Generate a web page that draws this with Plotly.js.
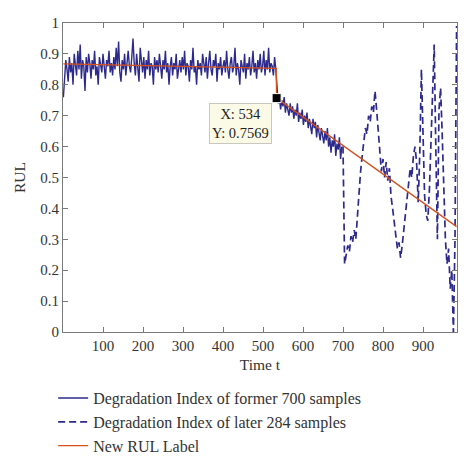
<!DOCTYPE html>
<html>
<head>
<meta charset="utf-8">
<script src="https://cdn.plot.ly/plotly-3.0.1.min.js"></script>
<style>html,body{margin:0;padding:0;background:#fff;}#chart{width:474px;height:469px;}</style>
</head>
<body>
<div id="chart"></div>
<script>
// Degradation index, former 700 samples (every 3rd sample, starting at t=1)
const formerStart = 1;
const formerStep = 3;
const formerValues = [
0.76,0.83,0.88,0.85,0.81,0.89,0.84,0.87,0.80,0.90,0.86,0.83,0.91,0.85,0.93,0.82,0.88,0.86,0.78,0.89,
0.84,0.90,0.87,0.82,0.88,0.85,0.91,0.83,0.86,0.80,0.89,0.87,0.84,0.90,0.85,0.82,0.88,0.86,0.91,0.84,
0.87,0.83,0.89,0.85,0.92,0.86,0.94,0.84,0.81,0.88,0.85,0.90,0.83,0.87,0.91,0.86,0.84,0.89,0.95,0.87,
0.83,0.90,0.86,0.81,0.92,0.87,0.84,0.89,0.82,0.88,0.85,0.91,0.83,0.87,0.86,0.80,0.89,0.85,0.88,0.84,
0.90,0.86,0.82,0.88,0.85,0.91,0.84,0.87,0.80,0.86,0.89,0.83,0.87,0.85,0.90,0.82,0.86,0.88,0.84,0.89,
0.85,0.91,0.83,0.87,0.86,0.81,0.88,0.85,0.92,0.84,0.86,0.80,0.88,0.85,0.87,0.83,0.90,0.86,0.84,0.89,
0.82,0.87,0.91,0.85,0.83,0.88,0.86,0.90,0.81,0.87,0.85,0.89,0.83,0.86,0.88,0.84,0.91,0.85,0.82,0.87,
0.89,0.84,0.86,0.92,0.83,0.87,0.85,0.80,0.88,0.86,0.84,0.90,0.82,0.87,0.85,0.89,0.83,0.86,0.91,0.84,
0.87,0.82,0.88,0.85,0.90,0.84,0.86,0.91,0.83,0.88,0.85,0.92,0.84,0.87,0.86,0.83,0.89,0.85,
0.77,0.74,0.76,0.72,0.75,0.73,0.76,0.71,0.74,0.72,0.70,0.74,0.71,0.73,0.69,0.72,0.70,0.74,0.68,0.71,
0.69,0.72,0.67,0.70,0.68,0.71,0.66,0.69,0.67,0.64,0.69,0.66,0.68,0.63,0.67,0.65,0.62,0.66,0.64,0.61,
0.65,0.62,0.66,0.60,0.63,0.58,0.62,0.60,0.64,0.57,0.61,0.59,0.63,0.56,0.60
];
// Degradation index, later 284 samples (every 4th sample, starting at t=700)
const laterStart = 700;
const laterStep = 4;
const laterValues = [
0.60,0.22,0.25,0.28,0.26,0.31,0.29,0.33,0.30,0.38,0.45,0.52,0.57,0.62,0.66,0.64,0.70,0.68,0.73,0.71,
0.78,0.72,0.66,0.58,0.52,0.56,0.50,0.55,0.49,0.53,0.44,0.40,0.35,0.30,0.27,0.29,0.24,0.28,0.33,0.39,
0.45,0.48,0.53,0.50,0.57,0.60,0.55,0.42,0.58,0.85,0.62,0.44,0.38,0.36,0.46,0.62,0.80,0.93,0.60,0.30,
0.72,0.79,0.64,0.45,0.30,0.22,0.27,0.14,0.20,0.00,0.30,0.99
];
// New RUL label (piecewise linear)
const rulT = [1, 533, 534, 984];
const rulY = [0.868, 0.853, 0.757, 0.341];
// Data tip
const tipT = [534];
const tipY = [0.7569];

const xTicks = [100,200,300,400,500,600,700,800,900];
const yTicks = [0,0.1,0.2,0.3,0.4,0.5,0.6,0.7,0.8,0.9,1];
const yTickText = ['0','0.1','0.2','0.3','0.4','0.5','0.6','0.7','0.8','0.9','1'];

const formerT = formerValues.map((_, i) => formerStart + i * formerStep);
const laterT = laterValues.map((_, i) => laterStart + i * laterStep);

const blue = '#2d2a8e';
const red = '#d4501e';
const serif = 'Liberation Serif, Times New Roman, serif';

const traces = [
  {x: formerT, y: formerValues, type: 'scatter', mode: 'lines',
   name: 'Degradation Index of former 700 samples',
   line: {color: blue, width: 1.4}},
  {x: laterT, y: laterValues, type: 'scatter', mode: 'lines',
   name: 'Degradation Index of later 284 samples',
   line: {color: blue, width: 1.7, dash: '7px,4px'}},
  {x: rulT, y: rulY, type: 'scatter', mode: 'lines',
   name: 'New RUL Label',
   line: {color: red, width: 1.3}},
  {x: tipT, y: tipY, type: 'scatter', mode: 'markers', showlegend: false,
   marker: {symbol: 'square', size: 9, color: '#000', line: {color: '#fff', width: 1}}}
];

const axisCommon = {
  showline: true, mirror: 'ticks', linecolor: '#7a7a7a', linewidth: 1,
  ticks: 'inside', ticklen: 5, tickcolor: '#7a7a7a',
  showgrid: false, zeroline: false, automargin: false,
  tickfont: {family: serif, size: 15, color: '#333'}
};

const layout = {
  width: 474, height: 469,
  margin: {l: 63, r: 17, t: 23, b: 137, autoexpand: false},
  paper_bgcolor: '#fff', plot_bgcolor: '#fff',
  font: {family: serif, size: 15, color: '#333'},
  xaxis: Object.assign({}, axisCommon, {
    range: [0, 985], tickvals: xTicks, ticktext: xTicks.map(String),
    title: {text: 'Time t', font: {family: serif, size: 15.5, color: '#333'}, standoff: 6}
  }),
  yaxis: Object.assign({}, axisCommon, {
    range: [0, 1], tickvals: yTicks, ticktext: yTickText,
    title: {text: 'RUL', font: {family: serif, size: 15.5, color: '#333'}, standoff: 10}
  }),
  showlegend: true,
  legend: {
    x: -0.025, xanchor: 'left', y: -0.159, yanchor: 'top',
    font: {family: serif, size: 16, color: '#333'},
    bgcolor: 'rgba(0,0,0,0)', itemwidth: 30, tracegroupgap: 0
  },
  annotations: [{
    x: tipT[0], y: tipY[0], xref: 'x', yref: 'y',
    text: 'X: 534<br>Y: 0.7569', showarrow: false,
    xanchor: 'right', yanchor: 'top', xshift: -5, yshift: -5,
    align: 'center',
    font: {family: serif, size: 14.5, color: '#222'},
    bgcolor: '#fbfae6', bordercolor: '#c8c8c0', borderwidth: 1, borderpad: 2
  }]
};

Plotly.newPlot('chart', traces, layout, {displayModeBar: false, staticPlot: true});
</script>
</body>
</html>
